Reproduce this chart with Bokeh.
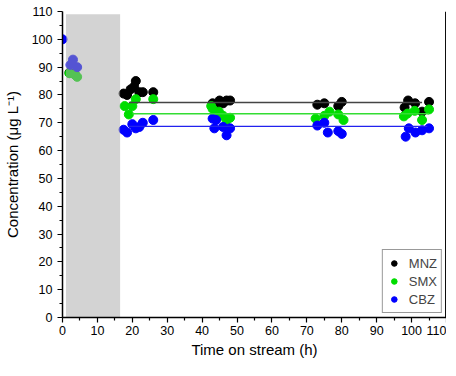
from bokeh.plotting import figure
from bokeh.models import Legend, LegendItem, Range1d, FixedTicker, Span
from bokeh.embed import file_html
from bokeh.resources import INLINE

# --- data ---
mnz_t = [2.0, 3.5, 17.5, 18.5, 19.5, 20.5, 21.0, 22.0, 23.0, 26.0,
         43.0, 44.0, 45.0, 46.0, 47.0, 48.0,
         73.0, 75.0, 79.0, 80.0,
         98.0, 99.0, 101.0, 103.0, 105.0]
mnz_c = [88.0, 87.5, 80.5, 80.0, 82.0, 83.0, 85.0, 81.0, 81.0, 81.0,
         77.0, 76.5, 78.0, 77.0, 78.0, 78.0,
         76.5, 77.0, 76.0, 77.5,
         75.5, 78.0, 77.0, 74.0, 77.5]
smx_t = [2.0, 3.5, 4.2, 17.8, 19.0, 20.0, 21.0, 26.0,
         42.6, 43.0, 44.8, 46.0, 47.0, 48.0,
         72.5, 75.0, 76.5, 79.0, 80.5,
         97.8, 98.8, 100.9, 103.0, 105.0]
smx_c = [87.8, 87.3, 86.5, 76.0, 73.0, 76.0, 78.5, 78.5,
         76.0, 75.0, 74.0, 72.5, 71.0, 71.8,
         71.5, 72.5, 74.0, 73.0, 71.0,
         72.3, 73.3, 74.3, 71.0, 74.8]
cbz_t = [0.0, 2.3, 3.0, 4.2, 17.5, 18.5, 20.0, 21.0, 22.0, 23.0, 26.0,
         43.0, 44.0, 43.5, 46.0, 47.0, 48.0,
         73.0, 75.0, 76.0, 79.0, 80.0,
         98.3, 99.2, 101.1, 103.0, 105.0]
cbz_c = [100.0, 90.8, 92.7, 90.0, 67.5, 66.5, 69.5, 68.0, 68.5, 70.0, 71.0,
         71.5, 71.0, 68.0, 68.5, 65.5, 68.0,
         69.0, 70.0, 66.5, 67.0, 66.0,
         65.0, 68.0, 66.5, 67.3, 68.0]
mnz_mean_t = [19.0, 103.0]
mnz_mean = [77.3, 77.3]
smx_mean_t = [20.0, 105.0]
smx_mean = [73.2, 73.2]
cbz_mean_t = [19.0, 104.5]
cbz_mean = [68.7, 68.7]
shade_t = [1.0, 16.5]
shade_top = 109.0
x_ticks = list(range(0, 111, 10))
y_ticks = list(range(0, 111, 10))

FONT = "Liberation Sans"
X_END = 110

p = figure(width=446, height=360, output_backend="svg", toolbar_location=None,
           x_range=Range1d(0, X_END), y_range=Range1d(0, 110),
           min_border_left=10, min_border_right=0, min_border_top=11, min_border_bottom=0)
p.outline_line_color = None
p.grid.visible = False
p.background_fill_color = "white"

mnz_r = p.scatter(mnz_t, mnz_c, size=9, color="black")
smx_r = p.scatter(smx_t, smx_c, size=9, color="#00dd00")
cbz_r = p.scatter(cbz_t, cbz_c, size=9, color="#0000ff")

p.quad(left=shade_t[0], right=shade_t[1], bottom=0, top=shade_top,
       fill_color="#a7a7a7", fill_alpha=0.5, line_color=None)

p.line(mnz_mean_t, mnz_mean, color="#444444", line_width=1.5)
p.line(smx_mean_t, smx_mean, color="#33dd33", line_width=1.5)
p.line(cbz_mean_t, cbz_mean, color="#2222ee", line_width=1.2)

# plain right-hand frame line, kept just inside the plot area so it is not clipped
p.add_layout(Span(location=X_END - 0.2, dimension="height", line_color="black", line_width=1.5))

for ax in (p.xaxis[0], p.yaxis[0]):
    ax.axis_line_width = 1.5
    ax.axis_line_color = "black"
    ax.major_tick_in = 0
    ax.major_tick_out = 5
    ax.minor_tick_in = 0
    ax.minor_tick_out = 3
    ax.major_tick_line_width = 1.2
    ax.minor_tick_line_width = 1.2
    ax.major_label_text_font = FONT
    ax.major_label_text_font_size = "12.5px"
    ax.major_label_text_color = "black"
    ax.axis_label_text_font = FONT
    ax.axis_label_text_font_size = "15px"
    ax.axis_label_text_font_style = "normal"
    ax.axis_label_text_color = "black"

p.xaxis[0].ticker = FixedTicker(ticks=x_ticks, minor_ticks=list(range(5, 110, 10)))
p.yaxis[0].ticker = FixedTicker(ticks=y_ticks, minor_ticks=list(range(5, 110, 10)))
p.xaxis[0].major_label_standoff = 3
p.xaxis[0].axis_label = "Time on stream (h)"
p.yaxis[0].axis_label = "Concentration (μg L⁻¹)"
p.xaxis[0].axis_label_standoff = 3
p.yaxis[0].axis_label_standoff = 8

legend = Legend(items=[LegendItem(label="MNZ", renderers=[mnz_r]),
                       LegendItem(label="SMX", renderers=[smx_r]),
                       LegendItem(label="CBZ", renderers=[cbz_r])],
                location="bottom_right")
legend.margin = 4
legend.padding = 4
legend.spacing = 0
legend.label_text_font = FONT
legend.label_text_font_size = "13px"
legend.label_height = 14
legend.glyph_height = 18
legend.glyph_width = 14
legend.label_standoff = 8
legend.border_line_color = "#333333"
legend.border_line_width = 1.2
legend.background_fill_alpha = 1
p.add_layout(legend)

open("out.html", "w").write(file_html(p, INLINE))
